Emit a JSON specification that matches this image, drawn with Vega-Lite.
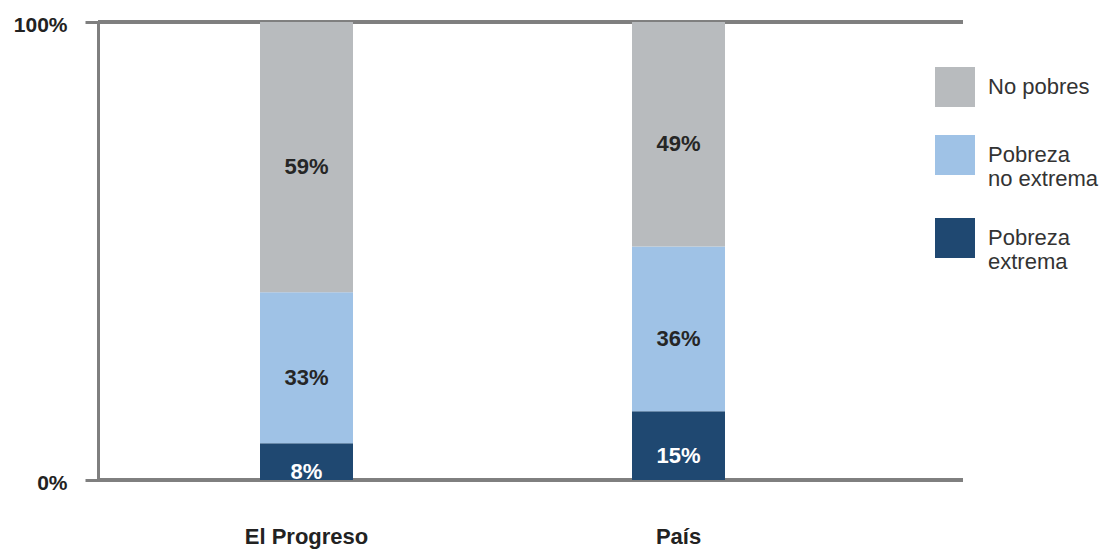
{
  "$schema": "https://vega.github.io/schema/vega-lite/v6.json",
  "width": 865,
  "height": 458,
  "autosize": {"type": "none"},
  "padding": {"left": 98, "top": 22, "right": 140, "bottom": 70},
  "background": "white",
  "data": {
    "values": [
      {"region": "El Progreso", "category": "Pobreza extrema", "value": 8, "order": 1},
      {"region": "El Progreso", "category": "Pobreza no extrema", "value": 33, "order": 2},
      {"region": "El Progreso", "category": "No pobres", "value": 59, "order": 3},
      {"region": "País", "category": "Pobreza extrema", "value": 15, "order": 1},
      {"region": "País", "category": "Pobreza no extrema", "value": 36, "order": 2},
      {"region": "País", "category": "No pobres", "value": 49, "order": 3}
    ]
  },
  "transform": [
    {"stack": "value", "groupby": ["region"], "sort": [{"field": "order", "order": "ascending"}], "as": ["v0", "v1"]},
    {"calculate": "(datum.v0 + datum.v1) / 2", "as": "mid"},
    {"calculate": "datum.value + '%'", "as": "label"}
  ],
  "layer": [
    {
      "mark": {"type": "rule", "color": "#7f7f7f", "strokeWidth": 3},
      "encoding": {"y": {"datum": 0, "type": "quantitative", "title": null}}
    },
    {
      "mark": {"type": "rule", "color": "#7f7f7f", "strokeWidth": 3},
      "encoding": {"y": {"datum": 100, "type": "quantitative", "title": null}}
    },
    {
      "mark": {"type": "bar"},
      "encoding": {
        "x": {
          "field": "region", "type": "nominal", "sort": ["El Progreso", "País"], "title": null,
          "scale": {"paddingInner": 0.75, "paddingOuter": 0, "range": [162, 627]},
          "axis": {"domain": false, "ticks": false, "labelAngle": 0, "labelPadding": 46}
        },
        "y": {
          "field": "v1", "type": "quantitative", "title": null, "scale": {"domain": [0, 100]},
          "axis": {"values": [0, 100], "labelExpr": "datum.value + '%'", "grid": false, "labelOffset": 3}
        },
        "y2": {"field": "v0"},
        "color": {
          "field": "category", "type": "nominal", "title": null,
          "scale": {
            "domain": ["No pobres", "Pobreza no extrema", "Pobreza extrema"],
            "range": ["#b8bbbe", "#9fc2e6", "#1f4871"]
          },
          "legend": {
            "orient": "none", "legendX": 837, "legendY": 45,
            "symbolType": "square", "symbolSize": 1600, "symbolStrokeWidth": 0, "symbolOpacity": 1,
            "labelFont": "Liberation Sans", "labelFontSize": 22, "labelColor": "#333333",
            "labelOffset": 13, "rowPadding": 28, "labelLimit": 200,
            "labelExpr": "datum.label == 'No pobres' ? datum.label : ['Pobreza', substring(datum.label, 8)]"
          }
        }
      }
    },
    {
      "mark": {"type": "text", "font": "Liberation Sans", "fontSize": 22, "fontWeight": "bold", "dy": 10},
      "encoding": {
        "x": {"field": "region", "type": "nominal", "sort": ["El Progreso", "País"], "title": null},
        "y": {"field": "mid", "type": "quantitative", "title": null},
        "text": {"field": "label"},
        "color": {"condition": {"test": "datum.category === 'Pobreza extrema'", "value": "white"}, "value": "#262626"}
      }
    }
  ],
  "config": {
    "view": {"stroke": null},
    "axisX": {
      "labelFont": "Liberation Sans", "labelFontSize": 22, "labelFontWeight": "bold", "labelColor": "#222222"
    },
    "axisY": {
      "domainColor": "#7f7f7f", "domainWidth": 3, "tickColor": "#7f7f7f", "tickWidth": 3, "tickSize": 13,
      "labelFont": "Liberation Sans", "labelFontSize": 21, "labelFontWeight": "bold", "labelColor": "#222222",
      "labelPadding": 18
    }
  }
}
